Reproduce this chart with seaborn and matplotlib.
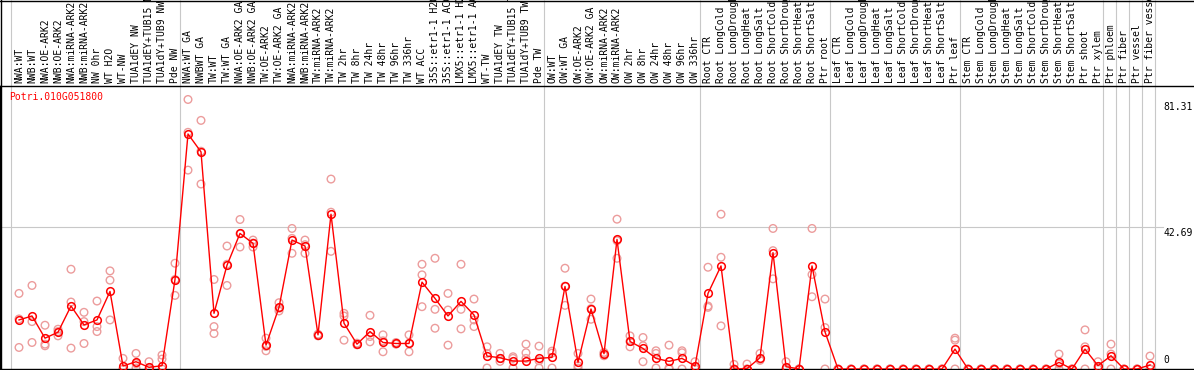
"""Perfil de expresion de Potri.010G051800 por muestra."""

import matplotlib
matplotlib.use("Agg")

import matplotlib.pyplot as plt
import numpy as np
import pandas as pd
import seaborn as sns
from matplotlib.lines import Line2D
from matplotlib.transforms import blended_transform_factory

gene_name = "Potri.010G051800"

sample_labels = [
    "NWA:WT", "NWB:WT", "NWA:OE-ARK2", "NWB:OE-ARK2", "NWA:miRNA-ARK2",
    "NWB:miRNA-ARK2", "NW 0hr", "WT H2O", "WT-NW", "TUA1dEY NW",
    "TUA1dEY+TUB15 NW", "TUA1dY+TUB9 NW", "Pde NW",
    "NWA:WT GA", "NWBWT GA", "TW:WT", "TW:WT GA", "NWA:OE-ARK2 GA",
    "NWB:OE-ARK2 GA", "TW:OE-ARK2", "TW:OE-ARK2 GA", "NWA:miRNA-ARK2",
    "NWB:miRNA-ARK2", "TW:miRNA-ARK2", "TW:miRNA-ARK2", "TW 2hr", "TW 8hr",
    "TW 24hr", "TW 48hr", "TW 96hr", "TW 336hr", "WT ACC", "35S::etr1-1 H2O",
    "35S::etr1-1 ACC", "LMX5::etr1-1 H2O", "LMX5::etr1-1 ACC", "WT-TW",
    "TUA1dEY TW", "TUA1dEY+TUB15 TW", "TUA1dY+TUB9 TW", "Pde TW",
    "OW:WT", "OW:WT GA", "OW:OE-ARK2", "OW:OE-ARK2 GA", "OW:miRNA-ARK2",
    "OW:miRNA-ARK2", "OW 2hr", "OW 8hr", "OW 24hr", "OW 48hr", "OW 96hr",
    "OW 336hr",
    "Root CTR", "Root LongCold", "Root LongDrought", "Root LongHeat",
    "Root LongSalt", "Root ShortCold", "Root ShortDrought", "Root ShortHeat",
    "Root ShortSalt", "Ptr root",
    "Leaf CTR", "Leaf LongCold", "Leaf LongDrought", "Leaf LongHeat",
    "Leaf LongSalt", "Leaf ShortCold", "Leaf ShortDrought", "Leaf ShortHeat",
    "Leaf ShortSalt", "Ptr leaf",
    "Stem CTR", "Stem LongCold", "Stem LongDrought", "Stem LongHeat",
    "Stem LongSalt", "Stem ShortCold", "Stem ShortDrought", "Stem ShortHeat",
    "Stem ShortSalt", "Ptr shoot", "Ptr xylem",
    "Ptr phloem", "Ptr fiber", "Ptr vessel", "Ptr fiber vessel",
]

# tamaños de cada bloque de muestras (separadores verticales)
group_sizes = [13, 28, 12, 10, 10, 11, 1, 1, 1, 1]

# media por muestra
mean_values = [
    14.8, 16.0, 9.3, 11.1, 19.0, 13.3, 14.8, 23.4, 0.9, 2.2, 0.5, 1.0, 27.0,
    70.9, 65.5, 16.8, 31.3, 40.9, 37.9, 7.2, 18.6, 38.9, 37.1, 10.3, 46.7,
    13.8, 7.5, 11.3, 8.0, 7.7, 7.7, 26.2, 21.3, 16.0, 20.4, 16.3, 3.9, 3.4,
    2.4, 2.4, 3.2,
    3.5, 24.9, 2.0, 18.1, 4.6, 39.1, 8.3, 6.2, 3.2, 2.3, 3.2, 0.9,
    22.8, 31.1, 0.0, 0.1, 3.4, 35.1, 0.7, 0.0, 31.1, 11.2,
    0.0, 0.0, 0.0, 0.0, 0.0, 0.0, 0.0, 0.0, 0.0, 6.0,
    0.0, 0.0, 0.0, 0.0, 0.0, 0.0, 0.0, 2.0, 0.0, 6.0, 1.0,
    4.0, 0.0, 0.0, 1.2,
]

# replicas individuales
rep_a = [
    22.8, 25.2, 13.2, 12.0, 30.1, 17.1, 20.5, 29.6, 3.2, 4.7, 2.2, 4.2, 31.9,
    81.31, 75.0, 27.0, 37.1, 45.1, 38.9, 9.3, 20.0, 42.4, 38.9, 10.5, 57.3,
    16.8, 7.8, 16.2, 10.3, 8.0, 10.3, 31.6, 33.4, 22.8, 31.6, 21.1, 6.7, 4.7,
    3.7, 7.5, 6.9,
    5.4, 30.4, 4.7, 21.1, 5.0, 45.2, 10.0, 9.5, 5.5, 7.2, 5.5, 2.2,
    30.7, 46.7, 1.4, 1.5, 4.7, 42.4, 2.2, 0.0, 42.4, 21.1,
    0.0, 0.0, 0.0, 0.0, 0.0, 0.0, 0.0, 0.0, 0.0, 9.3,
    0.0, 0.0, 0.0, 0.0, 0.0, 0.0, 0.0, 4.5, 0.0, 11.8, 2.2,
    7.5, 0.0, 0.0, 3.9,
]
rep_b = [
    6.5, 14.3, 7.0, 10.0, 20.2, 14.3, 12.8, 26.8, 0.0, 0.3, 0.0, 3.0, 22.2,
    60.0, 55.8, 12.8, 25.2, 36.8, 38.0, 5.5, 17.5, 34.9, 34.9, 10.0, 35.5,
    16.0, 7.3, 9.8, 5.2, 7.5, 5.2, 28.4, 18.0, 17.8, 18.0, 14.8, 0.3, 3.2,
    3.2, 4.9, 0.3,
    0.3, 19.2, 0.3, 15.0, 4.0, 33.4, 6.7, 2.2, 4.7, 0.3, 4.9, 0.5,
    19.0, 33.7, 0.0, 0.0, 2.9, 27.2, 0.0, 0.0, 28.5, 12.5,
    0.0, 0.0, 0.0, 0.0, 0.0, 0.0, 0.0, 0.0, 0.0, 8.7,
    0.0, 0.0, 0.0, 0.0, 0.0, 0.0, 0.0, 0.0, 0.0, 6.7, 0.7,
    0.0, 0.0, 0.0, 0.0,
]
rep_c = [
    15.1, 8.0, 7.5, 11.3, 6.3, 7.7, 11.3, 14.8, 0.0, 1.6, 0.0, 0.0, 27.0,
    71.4, 65.7, 10.7, 31.6, 40.8, 36.8, 6.8, 18.3, 39.4, 37.5, 10.3, 47.3,
    8.7, 7.4, 8.2, 8.5, 7.6, 7.7, 18.8, 12.3, 7.2, 12.1, 12.8, 4.7, 2.3,
    0.3, 3.2, 2.5,
    4.8, 25.0, 1.0, 18.2, 4.6, 38.7, 8.3, 7.0, 0.3, 0.0, 0.0, 0.0,
    18.6, 13.0, 0.0, 0.0, 2.6, 35.7, 0.0, 0.0, 21.8, 0.0,
    0.0, 0.0, 0.0, 0.0, 0.0, 0.0, 0.0, 0.0, 0.0, 0.0,
    0.0, 0.0, 0.0, 0.0, 0.0, 0.0, 0.0, 1.5, 0.0, 0.0, 0.0,
    4.5, 0.0, 0.0, 0.0,
]

y_max = 81.31
y_mid = 42.69

RED = "#ff0000"
PINK = "#ec9c9c"
GRID = "#c8c8c8"

n = len(sample_labels)
pos = np.arange(n)
df_mean = pd.DataFrame({"pos": pos, "value": mean_values})
df_reps = pd.DataFrame({
    "pos": np.tile(pos, 3),
    "value": np.concatenate([rep_a, rep_b, rep_c]),
})

W, H = 1194, 370
top_px, bottom_px = 86, 369
plot_h = bottom_px - top_px

fig = plt.figure(figsize=(W / 100, H / 100), dpi=100)
ax = fig.add_axes([0, (H - bottom_px) / H, 1, plot_h / H])
ax.set_facecolor("white")

ax.set_xlim(-19 / 13, (W - 19) / 13)
ax.set_ylim(0, y_max * 1.05)

trans = blended_transform_factory(ax.transData, ax.transAxes)

# separadores de grupos
bounds = np.concatenate([[0], np.cumsum(group_sizes)]) - 0.62
ax.vlines(bounds, 0, 1 + top_px / plot_h, transform=trans, colors=GRID,
          linewidth=0.8, clip_on=False, zorder=0)
ax.axhline(y_mid, xmin=0, xmax=1163 / W, color=GRID, linewidth=0.8, zorder=0)

sns.scatterplot(data=df_reps, x="pos", y="value", ax=ax, marker="o", s=30,
                facecolor="none", edgecolor=PINK, linewidth=1.0, zorder=2,
                legend=False)
sns.lineplot(data=df_mean, x="pos", y="value", ax=ax, color=RED, marker="o",
             markersize=5.5, markerfacecolor="none", markeredgecolor=RED,
             markeredgewidth=1.1, linewidth=1.0, zorder=3)

# etiquetas de muestras (cabecera)
for i, lab in enumerate(sample_labels):
    ax.text(i, 1 + 3 / plot_h, lab, transform=trans, rotation=90,
            ha="center", va="bottom", fontsize=7, family="DejaVu Sans Mono",
            clip_on=False)

# escala a la derecha
x_lab = (1163 - 19) / 13
ax.text(x_lab, y_max - 0.8, f"{y_max:.2f}", ha="left", va="top", fontsize=7,
        family="DejaVu Sans Mono")
ax.text(x_lab, y_mid - 0.2, f"{y_mid:.2f}", ha="left", va="top", fontsize=7,
        family="DejaVu Sans Mono")
ax.text(x_lab, 1.2, "0", ha="left", va="bottom", fontsize=7,
        family="DejaVu Sans Mono")

ax.text(9 / W, 1 - 11 / plot_h, gene_name, transform=ax.transAxes, color=RED,
        ha="left", va="center", fontsize=7, family="DejaVu Sans Mono")

ax.set_xticks([])
ax.set_yticks([])
ax.set_xlabel("")
ax.set_ylabel("")
for side in ["right"]:
    ax.spines[side].set_visible(False)
for side in ["left", "top", "bottom"]:
    ax.spines[side].set_color("black")
    ax.spines[side].set_linewidth(1.0)

fig.add_artist(Line2D([0, 1], [1 - 0.5 / H] * 2, transform=fig.transFigure,
                      color="black", linewidth=1.0))
fig.add_artist(Line2D([0.5 / W] * 2, [0, 1], transform=fig.transFigure,
                      color="black", linewidth=1.0))

fig.savefig("out.png", dpi=100)
plt.close(fig)
